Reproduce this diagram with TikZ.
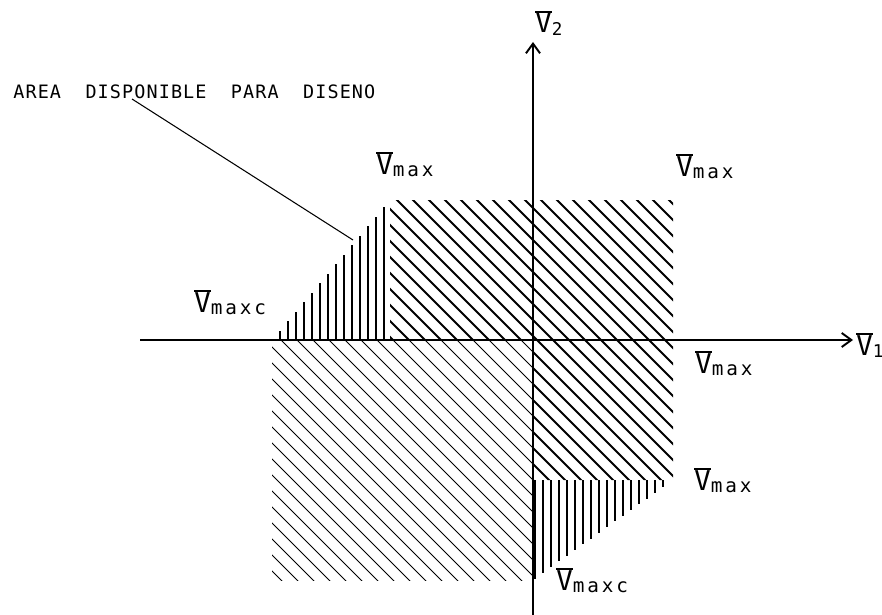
\documentclass[tikz,border=0pt]{standalone}
\usepackage{fontspec}
\setmainfont{DejaVu Sans Mono}
\usetikzlibrary{arrows.meta}
\newcommand{\titlefont}{\fontsize{10.5}{11}\selectfont\addfontfeatures{LetterSpace=6}}
\newcommand{\vfont}{\fontsize{15.5}{16}\selectfont}
\newcommand{\subfont}{\fontsize{11}{12}\selectfont\addfontfeatures{LetterSpace=15}}
\newcommand{\digfont}{\fontsize{10}{11}\selectfont}
\newcommand{\vbar}{{\vfont\rlap{\rule[11.6pt]{9.3pt}{0.8pt}}V}}
\newcommand{\vlab}[1]{\vbar\raisebox{-1.7pt}{\subfont #1}}
\newcommand{\vdig}[1]{\vbar\raisebox{-1.7pt}{\digfont #1}}
\begin{document}
\begin{tikzpicture}[x=0.02cm,y=-0.02cm,
  axis/.style={line width=1.1pt,-{Straight Barb[length=5.5pt,width=8pt]}},
  bold/.style={line width=1.1pt},
  light/.style={line width=0.45pt},
  lab/.style={inner sep=0pt,anchor=base west}]
\useasboundingbox (0,0) rectangle (882,615);
% light hatch, lower left quadrant
\begin{scope}
\clip (272,340) rectangle (533,580);
\foreach \k in {-20,...,12} \draw[light] (250,{245-16*\k}) -- ++(310,310);
\end{scope}
% bold hatch
\begin{scope}
\clip (390,200) -- (673,200) -- (673,480) -- (533,480) -- (533,340) -- (390,340) -- cycle;
\foreach \k in {-6,...,30} \draw[bold] (380,{375-16*\k}) -- ++(310,310);
\end{scope}
% vertical hatch
\foreach \x in {280,288,...,384} \draw[bold] (\x,340) -- (\x,{340-140*(\x-272)/118});
\foreach \x in {535,543,...,663} \draw[bold] (\x,480) -- (\x,{580-100*(\x-533)/140});
% axes
\coordinate (xl) at (140,340);
\coordinate (xr) at (853,340);
\coordinate (yb) at (533,615);
\coordinate (yt) at (533,42);
\draw[axis] (xl) -- (xr);
\draw[axis] (yb) -- (yt);
% labels
\node[lab] (v2) at (535,33) {\vdig{2}};
\node[lab] (v1) at (856,355) {\vdig{1}};
\node[lab] (vtl) at (376,174) {\vlab{max}};
\node[lab] (vtr) at (676,176) {\vlab{max}};
\node[lab] (vax) at (695,373) {\vlab{max}};
\node[lab] (vbr) at (694,490) {\vlab{max}};
\node[lab] (vcb) at (556,590) {\vlab{maxc}};
\node[lab] (vcl) at (194,312) {\vlab{maxc}};
\node[inner sep=0pt,anchor=base west,font=\titlefont] (area) at (13,99) {AREA\ \ DISPONIBLE\ \ PARA\ \ DISENO};
\coordinate (foot) at (132,99);
\coordinate (tip) at (353,240);
\draw[line width=0.6pt] (foot) -- (tip);
\end{tikzpicture}
\end{document}
